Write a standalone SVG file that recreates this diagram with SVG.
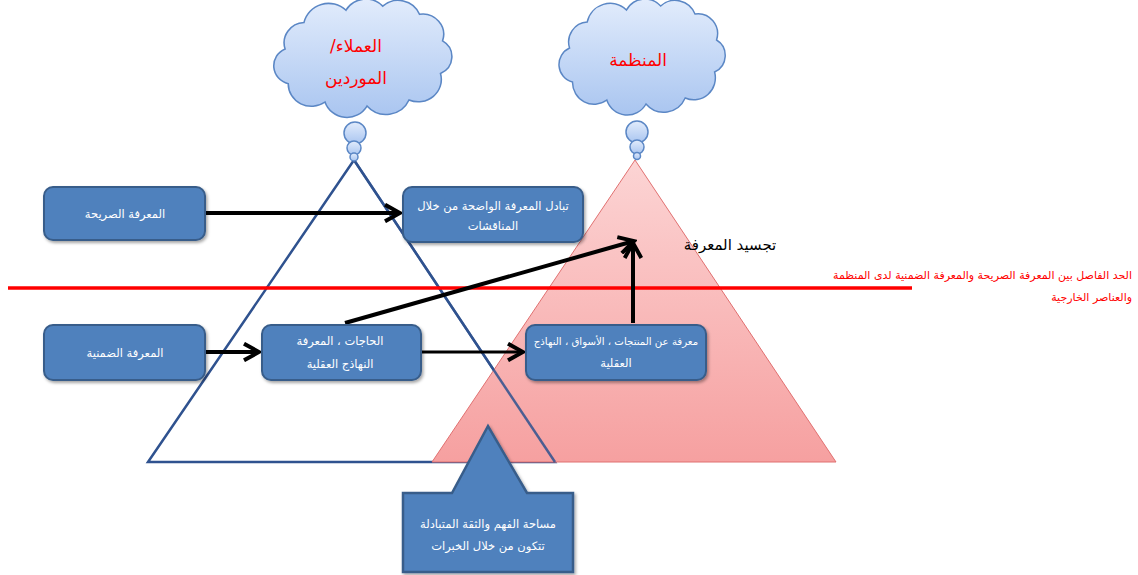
<svg xmlns="http://www.w3.org/2000/svg" width="1138" height="575" viewBox="0 0 1138 575">
<style>
.box{fill:#4f81bd;stroke:#385d8a;stroke-width:2;filter:url(#sh)}
.bt{font-family:"DejaVu Sans",sans-serif;font-size:11.5px;fill:#ffffff;text-anchor:middle}
.bs{font-size:10.2px}
.cloud{fill:url(#cg);stroke:#5b87c5;stroke-width:1.5}
.ct{font-family:"DejaVu Sans",sans-serif;font-size:17px;fill:#ff0000;text-anchor:middle}
.arr{stroke:#000;stroke-width:4;fill:none;marker-end:url(#ah)}
.rt{font-family:"DejaVu Sans",sans-serif;font-size:11px;fill:#ff0000}
</style>
<defs>
<linearGradient id="cg" x1="0" y1="0" x2="0" y2="1"><stop offset="0" stop-color="#e2ecfc"/><stop offset="1" stop-color="#a9c5f0"/></linearGradient>
<linearGradient id="pg" x1="0" y1="0" x2="0" y2="1"><stop offset="0" stop-color="#fcd4d4"/><stop offset="1" stop-color="#f6a0a0"/></linearGradient>
<filter id="sh" x="-10%" y="-10%" width="130%" height="140%"><feDropShadow dx="1.5" dy="2" stdDeviation="1.5" flood-color="#000" flood-opacity="0.35"/></filter>
<marker id="ah" viewBox="0 0 12 12" refX="10" refY="6" markerWidth="20" markerHeight="20" markerUnits="userSpaceOnUse" orient="auto"><path d="M1,1 L10,6 L1,11" fill="none" stroke="#000" stroke-width="2.4" stroke-linejoin="miter"/></marker>
<path id="cl" d="M22,48 A20,20 0 0 1 40,22 A24,24 0 0 1 80,10 A22,22 0 0 1 115,6 A22,22 0 0 1 150,14 A20,20 0 0 1 172,40 A18,18 0 0 1 170,72 A22,22 0 0 1 140,98 A24,24 0 0 1 100,104 A22,22 0 0 1 60,100 A22,22 0 0 1 25,82 A18,18 0 0 1 22,48 Z"/>
</defs>
<rect width="1138" height="575" fill="#ffffff"/>

<g id="triangle-customers">
<polygon points="354,160 148,462 555,462" fill="#ffffff" stroke="#2f528f" stroke-width="2.5"/>
</g>
<g id="triangle-organization">
<polygon points="635,160 432,462 836,462" fill="url(#pg)" stroke="#e07070" stroke-width="1"/>
<line x1="354" y1="160" x2="555" y2="462" stroke="#2f528f" stroke-width="2.5" opacity="0.85"/>
</g>

<g id="cloud-customers">
<use href="#cl" transform="translate(262,0) scale(1.05,1.02)" class="cloud"/>
<circle cx="355" cy="133" r="11" class="cloud"/>
<circle cx="354" cy="148" r="7" class="cloud"/>
<circle cx="354" cy="157" r="4" class="cloud"/>
<text x="356" y="52" class="ct" direction="rtl" unicode-bidi="embed">العملاء/</text>
<text x="356" y="84" class="ct">الموردين</text>
</g>
<g id="cloud-organization">
<use href="#cl" transform="translate(548,0) scale(0.98,1.0)" class="cloud"/>
<circle cx="637" cy="132" r="11" class="cloud"/>
<circle cx="637" cy="147" r="7" class="cloud"/>
<circle cx="637" cy="156" r="3.5" class="cloud"/>
<text x="638" y="66" class="ct">المنظمة</text>
</g>

<g id="boundary-line">
<line x1="8" y1="288" x2="912" y2="288" stroke="#ff0000" stroke-width="3.5"/>
<text x="1132" y="279" class="rt" text-anchor="end">الحد الفاصل بين المعرفة الصريحة والمعرفة الضمنية لدى المنظمة</text>
<text x="1132" y="301" class="rt" text-anchor="end">والعناصر الخارجية</text>
</g>

<g id="label-embodiment">
<text x="730" y="250" font-family="DejaVu Sans, sans-serif" font-size="15" fill="#000" text-anchor="middle">تجسيد المعرفة</text>
</g>

<g id="connectors">
<line x1="206" y1="213" x2="400" y2="213" class="arr"/>
<line x1="206" y1="352" x2="259" y2="352" class="arr"/>
<line x1="422" y1="352" x2="523" y2="352" class="arr" style="stroke-width:3"/>
<line x1="345" y1="323" x2="634" y2="241" class="arr"/>
<line x1="633" y1="323" x2="633" y2="243" class="arr"/>
</g>

<g id="node-explicit">
<rect x="44" y="187" width="161" height="53" rx="9" class="box"/>
<text x="125" y="218" class="bt">المعرفة الصريحة</text>
</g>
<g id="node-exchange">
<rect x="403" y="187" width="180" height="55" rx="9" class="box"/>
<text x="493" y="210" class="bt">تبادل المعرفة الواضحة من خلال</text>
<text x="493" y="230" class="bt">المناقشات</text>
</g>
<g id="node-tacit">
<rect x="44" y="325" width="161" height="55" rx="9" class="box"/>
<text x="125" y="357" class="bt">المعرفة الضمنية</text>
</g>
<g id="node-needs">
<rect x="262" y="325" width="159" height="55" rx="9" class="box"/>
<text x="340" y="345" class="bt">الحاجات ، المعرفة</text>
<text x="340" y="368" class="bt">النهاذج العقلية</text>
</g>
<g id="node-products">
<rect x="526" y="325" width="180" height="55" rx="9" class="box"/>
<text x="616" y="345" class="bt bs">معرفة عن المنتجات ، الأسواق ، النهاذج</text>
<text x="616" y="367" class="bt">العقلية</text>
</g>
<g id="node-trust">
<path d="M403,493 L452,493 L488,426 L527,493 L573,493 L573,572 L403,572 Z" class="box" style="stroke-width:2.5"/>
<text x="488" y="528" class="bt">مساحة الفهم والثقة المتبادلة</text>
<text x="488" y="550" class="bt">تتكون من خلال الخبرات</text>
</g>
</svg>
